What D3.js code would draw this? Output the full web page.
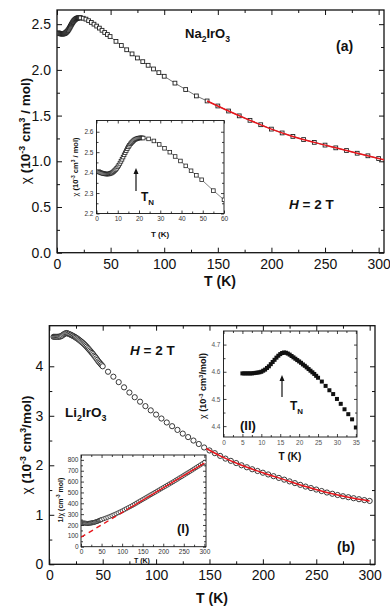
<!DOCTYPE html>
<html lang="en">
<head>
  <meta charset="UTF-8" />
  <title>Susceptibility of Na2IrO3 and Li2IrO3</title>
  <style>
    body { margin: 0; background: #fff; }
    svg { display: block; font-family: "Liberation Sans", Arial, sans-serif; }
  </style>
</head>
<body>
<div id="chart"></div>
<script src="https://cdn.jsdelivr.net/npm/d3@7"></script>
<script>
  // ---------- Panel (a): Na2IrO3, chi in 10^-3 cm^3/mol ----------
  const naT = [1,1.5,2,2.5,3,3.5,4,4.5,5,5.5,6,6.5,7,7.5,8,8.5,9,9.5,10,10.5,11,11.5,12,12.5,13,13.5,14,14.5,15,15.5,16,16.5,17,17.5,18,18.5,19,19.5,20,20.5,21,21.5,22,
    24.5,27,29.5,32,34.5,37,39.5,42,44.5,47,49.5,
    55,60,65,70,75,80,85,90,95,100,
    110,120,130,140,150,160,170,180,190,200,210,220,230,240,250,260,270,280,290,300];
  const naChi = [2.405,2.402,2.400,2.398,2.396,2.395,2.394,2.393,2.393,2.393,2.394,2.396,2.398,2.401,2.405,2.410,2.415,2.421,2.428,2.436,2.445,2.455,2.465,2.476,2.487,2.497,2.507,2.517,2.526,2.534,2.541,2.547,2.552,2.557,2.561,2.564,2.566,2.568,2.569,2.570,2.570,2.570,2.569,
    2.565,2.555,2.538,2.519,2.500,2.479,2.457,2.433,2.409,2.387,2.365,
    2.312,2.267,2.220,2.175,2.130,2.090,2.050,2.010,1.970,1.930,
    1.855,1.785,1.715,1.660,1.605,1.550,1.497,1.448,1.400,1.352,1.310,1.272,1.238,1.207,1.177,1.147,1.118,1.088,1.060,1.030];
  // red fit curve
  const naFitT = [140,160,180,200,220,240,260,280,300,305];
  const naFitChi = [1.660,1.550,1.448,1.352,1.272,1.207,1.147,1.088,1.030,1.016];

  const aXTicks = [0,50,100,150,200,250,300];
  const aYTicks = [0,0.5,1.0,1.5,2.0,2.5];
  const aInXTicks = [0,10,20,30,40,50,60];
  const aInYTicks = [2.2,2.3,2.4,2.5,2.6];

  // ---------- Panel (b): Li2IrO3 ----------
  const liT = [4,5,6,7,8,9,10,11,12,13,14,15,16,17,18,19,20,21,22,23,24,25,26,27,28,29,30,31,32,33,34,35,36,37,38,39,40,41,42,43,44,45,46,47,48,49,50,
    55,60,65,70,75,80,85,90,95,100,105,110,115,120,125,130,135,140,145,150,155,160,165,170,175,180,185,190,195,200,
    205,210,215,220,225,230,235,240,245,250,255,260,265,270,275,280,285,290,295,300];
  const liChi = [4.595,4.595,4.595,4.595,4.596,4.598,4.600,4.608,4.620,4.638,4.652,4.665,4.671,4.667,4.656,4.648,4.638,4.627,4.616,4.604,4.592,4.578,4.564,4.548,4.532,4.515,4.497,4.480,4.460,4.440,4.418,4.395,4.370,4.345,4.320,4.295,4.270,4.245,4.215,4.190,4.160,4.130,4.100,4.075,4.050,4.025,4.000,
    3.890,3.790,3.680,3.575,3.470,3.375,3.285,3.195,3.110,3.025,2.945,2.865,2.790,2.715,2.640,2.570,2.500,2.430,2.360,2.300,2.245,2.190,2.135,2.090,2.045,2.000,1.960,1.920,1.885,1.850,
    1.815,1.780,1.745,1.710,1.675,1.640,1.605,1.570,1.540,1.510,1.480,1.450,1.425,1.400,1.375,1.355,1.335,1.315,1.297,1.280];
  const liFitT = [147,160,180,200,220,240,260,280,300];
  const liFitChi = [2.340,2.190,2.000,1.850,1.710,1.570,1.450,1.355,1.280];

  // inset (II): low temperature chi
  const iiT = [5,5.5,6,6.5,7,7.5,8,8.5,9,9.5,10,10.5,11,11.5,12,12.5,13,13.5,14,14.5,15,15.5,16,16.5,17,17.5,18,18.5,19,19.5,20,20.5,21,21.5,22,22.5,23,23.5,24,24.5,25,
    26,27,28,29,30,31,32,33,34,35];
  const iiChi = [4.594,4.594,4.594,4.594,4.594,4.594,4.595,4.596,4.597,4.598,4.600,4.604,4.608,4.614,4.620,4.628,4.636,4.644,4.652,4.659,4.665,4.669,4.671,4.670,4.667,4.663,4.658,4.653,4.648,4.643,4.638,4.633,4.627,4.622,4.616,4.610,4.604,4.598,4.592,4.585,4.578,
    4.564,4.548,4.532,4.518,4.500,4.482,4.462,4.444,4.425,4.395];

  // inset (I): inverse chi in cm^-3 mol
  const iT = [2,4,6,8,10,12,14,16,18,20,22,24,26,28,30,32,34,36,38,40,42,44,46,48,
    50,55,60,65,70,75,80,85,90,95,100,105,110,115,120,125,130,135,140,145,150,155,160,165,170,175,
    180,185,190,195,200,205,210,215,220,225,230,235,240,245,250,255,260,265,270,275,280,285,290,295,300];
  const iInv = [218,218,218,218,217,216,215,214,215,216,217,218,219,221,222,224,227,229,232,234,237,240,244,247,
    250,257,264,271,279,287,295,303,312,321,330,340,350,360,370,380,391,402,413,424,435,446,457,468,479,490,
    501,512,523,534,545,556,567,578,589,600,612,623,635,646,658,670,681,693,705,717,729,741,753,765,777];
  // Curie-Weiss fit line: dashed part, then solid part
  const iFitT = [0,110,300];
  const iFitInv = [87,338,770];

  const bXTicks = [0,50,100,150,200,250,300];
  const bYTicks = [0,1,2,3,4];
  const iiXTicks = [0,5,10,15,20,25,30,35];
  const iiYTicks = [4.4,4.5,4.6,4.7];
  const iXTicks = [0,50,100,150,200,250,300];
  const iYTicks = [0,100,200,300,400,500,600,700,800];

  const RED = "#e8161c";
  const INK = "#111";

  const svg = d3.select("#chart").append("svg")
    .attr("width", 390).attr("height", 613);

  // Boxed frame with inward major + minor ticks on all four sides
  function frame(g, x, y, o) {
    const [x0, x1] = x.range();
    const [y0, y1] = y.range();
    g.append("rect")
      .attr("x", x0).attr("y", y1)
      .attr("width", x1 - x0).attr("height", y0 - y1)
      .attr("fill", o.fill || "none")
      .attr("stroke", INK).attr("stroke-width", o.sw);

    const sides = [
      { make: () => d3.axisBottom(x), t: `translate(0,${y0})`, ticks: o.xTicks, fmt: o.xFmt },
      { make: () => d3.axisTop(x), t: `translate(0,${y1})`, ticks: o.xTicks, fmt: null },
      { make: () => d3.axisLeft(y), t: `translate(${x0},0)`, ticks: o.yTicks, fmt: o.yFmt },
      { make: () => d3.axisRight(y), t: `translate(${x1},0)`, ticks: o.yTicks, fmt: null }
    ];
    sides.forEach(s => {
      // minor ticks halfway between majors
      const minor = d3.pairs(s.ticks).map(p => (p[0] + p[1]) / 2);
      g.append("g").attr("transform", s.t)
        .call(s.make().tickValues(minor).tickSize(-o.minor).tickFormat(""))
        .call(a => a.select(".domain").remove());

      const a = g.append("g").attr("transform", s.t)
        .call(s.make().tickValues(s.ticks).tickSize(-o.major).tickPadding(o.pad)
          .tickFormat(s.fmt || ""))
        .call(a => a.select(".domain").remove());
      a.selectAll("text").attr("font-size", o.font).attr("fill", o.labelColor || INK)
        .attr("font-family", "'Liberation Sans', Arial, sans-serif");
    });
    g.selectAll(".tick line").attr("stroke", INK).attr("stroke-width", o.tickW || 1);
  }

  // Text with sub/superscripts built from parts
  function rich(parent, x, y, parts, o) {
    const t = parent.append("text")
      .attr("x", x).attr("y", y)
      .attr("font-size", o.size)
      .attr("font-weight", o.weight || "bold")
      .attr("text-anchor", o.anchor || "start")
      .attr("fill", INK);
    if (o.rotate) t.attr("transform", `rotate(-90,${x},${y})`);
    let shift = 0;
    parts.forEach(([str, kind]) => {
      const target = kind === "sup" ? -o.size * 0.38 : kind === "sub" ? o.size * 0.32 : 0;
      const ts = t.append("tspan").text(str).attr("dy", target - shift);
      if (kind === "sup" || kind === "sub") ts.attr("font-size", o.size * 0.66);
      if (kind === "it") ts.attr("font-style", "italic");
      if (kind === "reg") ts.attr("font-weight", "normal");
      shift = target;
    });
    return t;
  }

  function arrow(parent, x, yFrom, yTo) {
    parent.append("line").attr("x1", x).attr("x2", x).attr("y1", yFrom).attr("y2", yTo + 4)
      .attr("stroke", INK).attr("stroke-width", 1.2);
    parent.append("path").attr("d", `M${x},${yTo} L${x - 2.5},${yTo + 6} L${x + 2.5},${yTo + 6} Z`)
      .attr("fill", INK);
  }

  function clip(id, x, y) {
    const [x0, x1] = x.range();
    const [y0, y1] = y.range();
    svg.append("clipPath").attr("id", id).append("rect")
      .attr("x", x0).attr("y", y1).attr("width", x1 - x0).attr("height", y0 - y1);
    return `url(#${id})`;
  }

  const zip = (a, b) => a.map((v, i) => [v, b[i]]);

  // ================= Panel (a) =================
  const ax = d3.scaleLinear().domain([0, 305]).range([57, 384]);
  const ay = d3.scaleLinear().domain([0, 2.655]).range([252.7, 10]);
  const ga = svg.append("g");
  frame(ga, ax, ay, { xTicks: aXTicks, yTicks: aYTicks, xFmt: d3.format("d"), yFmt: d3.format(".1f"),
    major: 5, minor: 3, pad: 6, font: 14, sw: 1.3 });

  const naPts = zip(naT, naChi);
  const gaData = ga.append("g").attr("clip-path", clip("clipA", ax, ay));
  gaData.append("path").datum(naPts)
    .attr("d", d3.line().x(d => ax(d[0])).y(d => ay(d[1])))
    .attr("fill", "none").attr("stroke", "#333").attr("stroke-width", 0.7);
  gaData.selectAll("rect.pt").data(naPts).enter().append("rect")
    .attr("x", d => ax(d[0]) - 1.9).attr("y", d => ay(d[1]) - 1.9)
    .attr("width", 3.8).attr("height", 3.8)
    .attr("fill", "#fff").attr("stroke", "#222").attr("stroke-width", 0.9);
  gaData.append("path").datum(zip(naFitT, naFitChi))
    .attr("d", d3.line().curve(d3.curveMonotoneX).x(d => ax(d[0])).y(d => ay(d[1])))
    .attr("fill", "none").attr("stroke", RED).attr("stroke-width", 1.5);

  rich(ga, 30, 131, [["χ", "reg"], [" (10", ""], ["-3", "sup"], [" cm", ""], ["3", "sup"], [" / mol)", ""]],
    { size: 13.5, anchor: "middle", rotate: true });
  rich(ga, 220, 286, [["T (K)", ""]], { size: 14, anchor: "middle" });
  rich(ga, 185, 38, [["Na", ""], ["2", "sub"], ["IrO", ""], ["3", "sub"]], { size: 13 });
  rich(ga, 336, 51, [["(a)", ""]], { size: 14 });
  rich(ga, 289, 209, [["H", "it"], [" = 2 T", ""]], { size: 13.5 });

  // inset of panel (a)
  const aix = d3.scaleLinear().domain([0, 60]).range([96.5, 224]);
  const aiy = d3.scaleLinear().domain([2.2, 2.655]).range([213.5, 120.5]);
  const gai = svg.append("g");
  frame(gai, aix, aiy, { xTicks: aInXTicks, yTicks: aInYTicks, xFmt: d3.format("d"), yFmt: d3.format(".1f"),
    major: 3, minor: 2, pad: 3, font: 6.5, sw: 0.9, fill: "#fff", labelColor: "#333", tickW: 0.8 });
  const gaiData = gai.append("g").attr("clip-path", clip("clipAI", aix, aiy));
  const naLow = naPts.filter(d => d[0] <= 62);
  gaiData.append("path").datum(naLow)
    .attr("d", d3.line().x(d => aix(d[0])).y(d => aiy(d[1])))
    .attr("fill", "none").attr("stroke", "#333").attr("stroke-width", 0.6);
  gaiData.selectAll("rect.pt").data(naLow).enter().append("rect")
    .attr("x", d => aix(d[0]) - 1.8).attr("y", d => aiy(d[1]) - 1.8)
    .attr("width", 3.6).attr("height", 3.6)
    .attr("fill", "#fff").attr("stroke", "#222").attr("stroke-width", 0.8);
  rich(gai, 78, 167, [["χ", "reg"], [" (10", ""], ["-3", "sup"], [" cm", ""], ["3", "sup"], [" / mol)", ""]],
    { size: 7.5, anchor: "middle", rotate: true });
  rich(gai, 160, 237, [["T (K)", ""]], { size: 8, anchor: "middle" });
  rich(gai, 141, 201, [["T", ""], ["N", "sub"]], { size: 12 });
  arrow(gai, 136, 191, 168);

  // ================= Panel (b) =================
  const bx = d3.scaleLinear().domain([0, 305]).range([49.3, 375]);
  const by = d3.scaleLinear().domain([0, 4.82]).range([564.3, 325.7]);
  const gb = svg.append("g");
  frame(gb, bx, by, { xTicks: bXTicks, yTicks: bYTicks, xFmt: d3.format("d"), yFmt: d3.format("d"),
    major: 5, minor: 3, pad: 6, font: 14, sw: 1.3 });
  const gbData = gb.append("g").attr("clip-path", clip("clipB", bx, by));
  gbData.selectAll("circle").data(zip(liT, liChi)).enter().append("circle")
    .attr("cx", d => bx(d[0])).attr("cy", d => by(d[1])).attr("r", 2.6)
    .attr("fill", "#fff").attr("stroke", "#222").attr("stroke-width", 0.9);
  gbData.append("path").datum(zip(liFitT, liFitChi))
    .attr("d", d3.line().curve(d3.curveMonotoneX).x(d => bx(d[0])).y(d => by(d[1])))
    .attr("fill", "none").attr("stroke", RED).attr("stroke-width", 1.5);

  rich(gb, 31, 445, [["χ", "reg"], [" (10", ""], ["-3", "sup"], [" cm", ""], ["3", "sup"], ["/mol)", ""]],
    { size: 13.5, anchor: "middle", rotate: true });
  rich(gb, 212, 603, [["T (K)", ""]], { size: 14, anchor: "middle" });
  rich(gb, 130, 355, [["H", "it"], [" = 2 T", ""]], { size: 13.5 });
  rich(gb, 65, 417, [["Li", ""], ["2", "sub"], ["IrO", ""], ["3", "sub"]], { size: 13.5 });
  rich(gb, 337, 552, [["(b)", ""]], { size: 14 });

  // inset (II)
  const iix = d3.scaleLinear().domain([0, 35.3]).range([223.5, 357]);
  const iiy = d3.scaleLinear().domain([4.36, 4.75]).range([437, 331]);
  const gii = svg.append("g");
  frame(gii, iix, iiy, { xTicks: iiXTicks, yTicks: iiYTicks, xFmt: d3.format("d"), yFmt: d3.format(".1f"),
    major: 3, minor: 2, pad: 3, font: 6.5, sw: 0.9, fill: "#fff", labelColor: "#555", tickW: 0.8 });
  const giiData = gii.append("g").attr("clip-path", clip("clipII", iix, iiy));
  giiData.selectAll("rect").data(zip(iiT, iiChi)).enter().append("rect")
    .attr("x", d => iix(d[0]) - 2).attr("y", d => iiy(d[1]) - 2)
    .attr("width", 4).attr("height", 4).attr("fill", "#111");
  rich(gii, 206, 386, [["χ", "reg"], [" (10", ""], ["-3", "sup"], [" cm", ""], ["3", "sup"], ["/mol)", ""]],
    { size: 9, anchor: "middle", rotate: true });
  rich(gii, 290, 460, [["T (K)", ""]], { size: 10, anchor: "middle" });
  rich(gii, 290, 410, [["T", ""], ["N", "sub"]], { size: 12 });
  arrow(gii, 282, 397, 375);
  rich(gii, 240, 430, [["(II)", ""]], { size: 13 });

  // inset (I)
  const ix = d3.scaleLinear().domain([0, 304]).range([81, 206]);
  const iy = d3.scaleLinear().domain([0, 845]).range([546.7, 455]);
  const gi = svg.append("g");
  frame(gi, ix, iy, { xTicks: iXTicks, yTicks: iYTicks, xFmt: d3.format("d"), yFmt: d3.format("d"),
    major: 3, minor: 2, pad: 2.5, font: 6.5, sw: 0.9, fill: "#fff", labelColor: "#333", tickW: 0.8 });
  const giData = gi.append("g").attr("clip-path", clip("clipI", ix, iy));
  giData.selectAll("circle").data(zip(iT, iInv)).enter().append("circle")
    .attr("cx", d => ix(d[0])).attr("cy", d => iy(d[1])).attr("r", 2)
    .attr("fill", "#fff").attr("stroke", "#222").attr("stroke-width", 0.8);
  const fitI = zip(iFitT, iFitInv);
  const lineI = d3.line().x(d => ix(d[0])).y(d => iy(d[1]));
  giData.append("path").datum(fitI.slice(0, 2)).attr("d", lineI)
    .attr("fill", "none").attr("stroke", RED).attr("stroke-width", 1.4).attr("stroke-dasharray", "5,4");
  giData.append("path").datum(fitI.slice(1)).attr("d", lineI)
    .attr("fill", "none").attr("stroke", RED).attr("stroke-width", 1.4);
  rich(gi, 63, 500, [["1/", ""], ["χ", "reg"], [" (cm", ""], ["-3", "sup"], [" mol)", ""]],
    { size: 7, anchor: "middle", rotate: true });
  rich(gi, 142, 563, [["T (K)", ""]], { size: 7, anchor: "middle" });
  rich(gi, 177, 533, [["(I)", ""]], { size: 13 });
</script>
</body>
</html>
